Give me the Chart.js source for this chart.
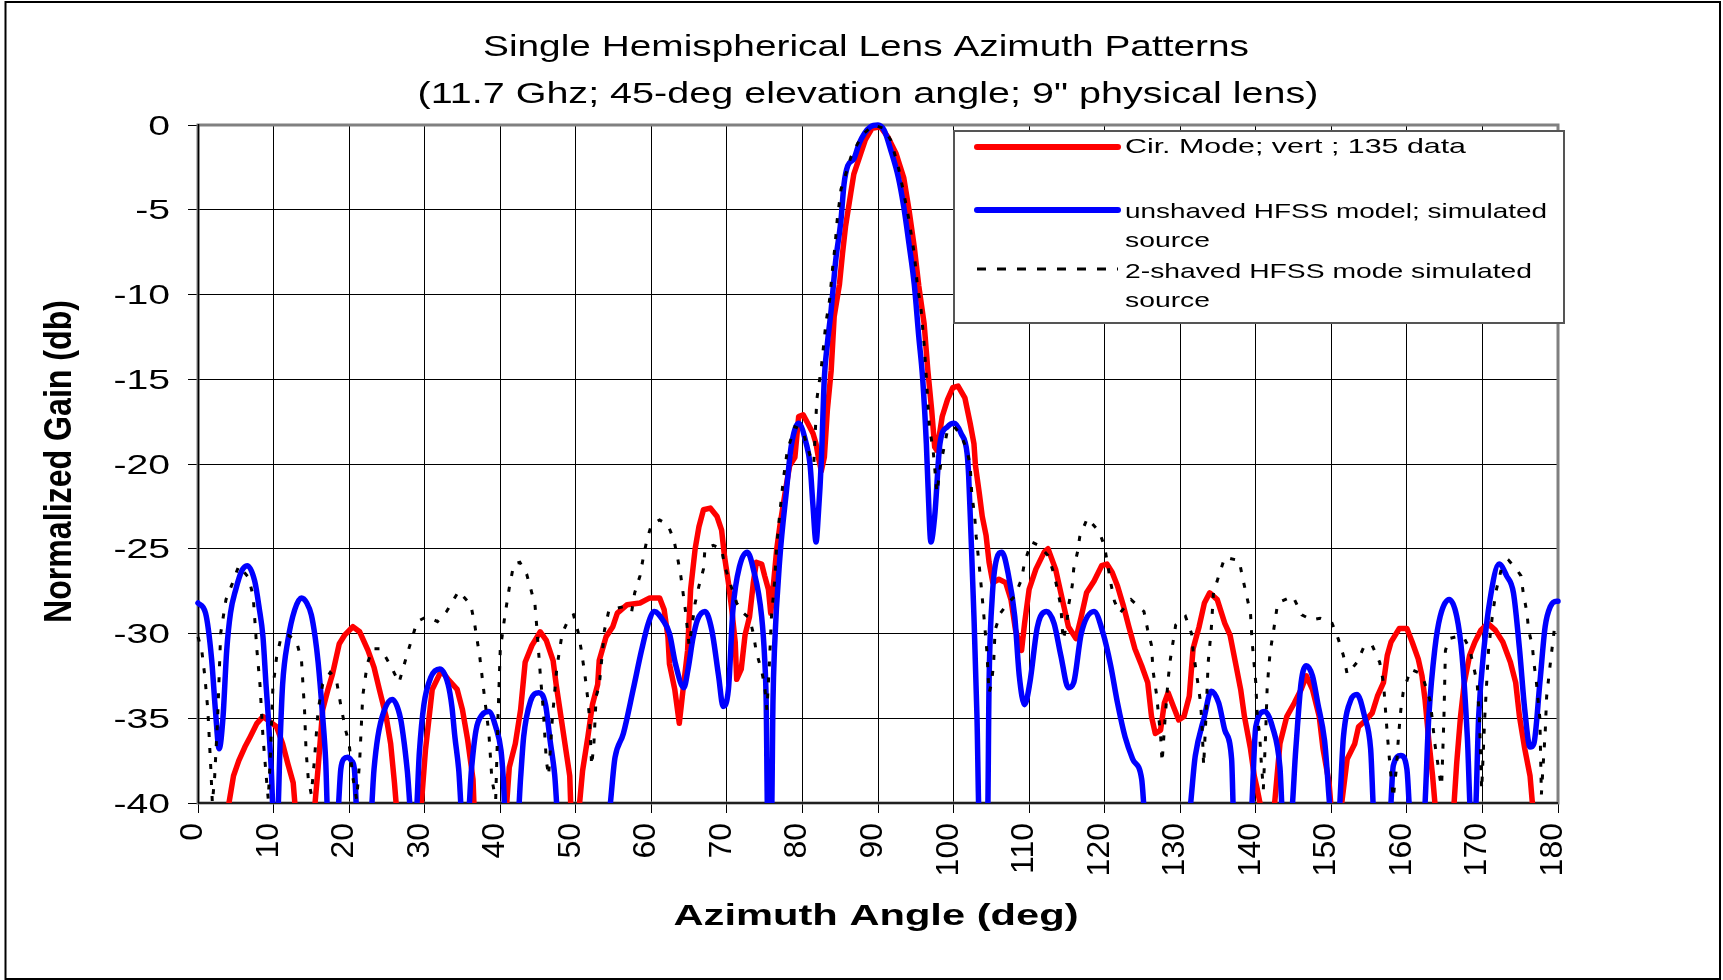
<!DOCTYPE html>
<html>
<head>
<meta charset="utf-8">
<title>Single Hemispherical Lens Azimuth Patterns</title>
<script src="https://cdn.jsdelivr.net/npm/chart.js@4/dist/chart.umd.min.js"></script>
<style>
  html, body { margin: 0; padding: 0; background: #fff; }
  canvas { display: block; }
</style>
</head>
<body>
<canvas id="chart" width="1723" height="980"></canvas>
<script>
// --- DATA ---
const titleLines = ['Single Hemispherical Lens Azimuth Patterns', '(11.7 Ghz; 45-deg elevation angle; 9" physical lens)'];
const xAxisTitle = 'Azimuth Angle (deg)';
const yAxisTitle = 'Normalized Gain (db)';
const xTicks = [0, 10, 20, 30, 40, 50, 60, 70, 80, 90, 100, 110, 120, 130, 140, 150, 160, 170, 180];
const yTicks = [0, -5, -10, -15, -20, -25, -30, -35, -40];
const seriesNames = ['Cir. Mode; vert ; 135 data', 'unshaved HFSS model; simulated\nsource', '2-shaved HFSS mode simulated\nsource'];

// measured pattern  [azimuth deg, gain db]  (values under -40 fall off the plot)
const redPoints = [
    [0, -46], [3.9, -41], [4.1, -40], [4.7, -38.4], [5.4, -37.5], [6.2, -36.7], [6.9, -36.1], [7.8, -35.3],
    [8.6, -34.9], [9.5, -35.2], [10.4, -35.5], [11.2, -36.5], [11.9, -37.7], [12.6, -38.8], [13.0, -41],
    [15.3, -41], [15.9, -37.9], [16.5, -34.5], [17.2, -33.3], [17.8, -32.4], [18.7, -30.6], [19.4, -30.1],
    [20.5, -29.6], [21.4, -29.9], [22.5, -31.0], [23.3, -32.0], [24.0, -33.3], [24.9, -34.9], [25.5, -36.5],
    [26.0, -38.8], [26.4, -41], [29.4, -41], [30.1, -36.9], [31.0, -33.3], [32.2, -32.2], [33.1, -32.7],
    [34.3, -33.3], [35.0, -34.5], [35.7, -36.3], [36.4, -38.6], [36.6, -41], [40.7, -41], [41.2, -37.9],
    [42.0, -36.5], [42.7, -34.5], [43.3, -31.7], [44.2, -30.7], [45.3, -29.9], [46.1, -30.4], [47.0, -31.6],
    [47.4, -33.0], [47.9, -34.5], [48.5, -36.3], [49.2, -38.4], [49.4, -41], [50.3, -41], [50.9, -38.1],
    [51.6, -36.1], [52.2, -34.2], [52.9, -33.0], [53.1, -31.6], [54.0, -30.2], [54.9, -29.6], [55.5, -28.8],
    [56.8, -28.3], [58.5, -28.2], [59.8, -27.9], [61.1, -27.9], [61.7, -28.6], [62.2, -30.2], [62.4, -31.8],
    [63.1, -33.3], [63.7, -35.3], [64.1, -33.7], [64.8, -31.0], [65.2, -27.4], [65.8, -25.0], [66.3, -23.7],
    [66.9, -22.7], [67.8, -22.6], [68.7, -23.1], [69.3, -23.9], [69.7, -25.5], [70.2, -27.0], [70.6, -28.4],
    [71.1, -30.5], [71.3, -32.7], [71.9, -32.1], [72.4, -30.1], [73.0, -29.0], [73.5, -27.0], [73.9, -25.8],
    [74.6, -25.9], [75.0, -26.6], [75.5, -27.4], [75.8, -28.8], [76.1, -27.4], [76.6, -25.0], [77.0, -23.7],
    [77.7, -21.7], [78.3, -20.1], [79.0, -19.6], [79.5, -17.2], [80.1, -17.1], [80.7, -17.6], [81.4, -18.2],
    [81.8, -18.8], [82.1, -19.6], [82.5, -20.4], [82.9, -19.6], [83.3, -16.8], [83.8, -14.5], [84.2, -11.3],
    [84.9, -9.4], [85.3, -7.6], [85.7, -6.0], [86.4, -4.0], [86.8, -2.9], [87.7, -1.7], [88.3, -0.9],
    [89.2, -0.2], [90.3, -0.1], [91.3, -0.7], [92.4, -1.7], [93.4, -3.1], [94.1, -5.0], [94.8, -7.2],
    [95.4, -9.5], [96.1, -11.7], [96.6, -14.5], [97.1, -16.8], [97.5, -19.0], [97.8, -19.2], [98.5, -17.2],
    [99.2, -16.2], [99.9, -15.5], [100.6, -15.4], [101.5, -16.1], [102.2, -17.6], [102.7, -18.8], [102.9, -20.1],
    [103.4, -21.7], [103.8, -23.1], [104.3, -24.2], [104.7, -25.8], [105.2, -27.0], [106.0, -26.8], [106.9, -27.0],
    [107.6, -28.0], [108.2, -29.8], [109.0, -31.0], [109.4, -29.4], [110.0, -27.4], [110.9, -26.2], [112.0, -25.2],
    [112.5, -25.0], [113.5, -26.2], [114.2, -27.6], [115.2, -29.6], [116.2, -30.3], [116.9, -29.0], [117.6, -27.6],
    [118.6, -26.9], [119.6, -26.0], [120.3, -25.9], [121.0, -26.4], [121.7, -27.2], [122.5, -28.4], [123.2, -29.6],
    [124.0, -30.9], [124.9, -31.9], [125.7, -32.9], [126.2, -34.9], [126.7, -35.9], [127.4, -35.7], [127.9, -34.1],
    [128.4, -33.5], [129.1, -34.3], [129.8, -35.1], [130.5, -34.9], [131.2, -33.7], [131.7, -30.9], [132.5, -29.6],
    [133.2, -28.2], [133.9, -27.6], [134.9, -28.0], [135.9, -29.4], [136.6, -30.1], [137.3, -31.7], [138.0, -33.3],
    [138.5, -34.9], [139.3, -36.8], [139.8, -38.4], [140.2, -39.2], [141.0, -41], [142.3, -41], [142.8, -38.5],
    [143.2, -36.5], [144.1, -34.9], [145.1, -34.1], [146.0, -33.3], [146.7, -32.5], [147.5, -33.3], [148.4, -34.9],
    [148.9, -36.8], [149.7, -38.8], [150.1, -41], [151.1, -41], [152.1, -37.4], [153.1, -36.5], [153.6, -35.5],
    [154.6, -35.1], [155.4, -34.7], [156.1, -33.7], [156.9, -32.9], [157.4, -31.3], [157.9, -30.5], [159.0, -29.7],
    [160.0, -29.7], [160.7, -30.5], [161.5, -31.5], [162.0, -32.5], [162.4, -33.9], [162.9, -36.3], [163.4, -38.4],
    [163.9, -41], [166.1, -41], [166.6, -37.6], [167.1, -34.9], [167.6, -32.9], [168.3, -31.3], [169.0, -30.5],
    [169.8, -29.8], [170.7, -29.4], [171.7, -29.8], [172.7, -30.5], [173.7, -31.7], [174.4, -32.9], [174.9, -34.9],
    [175.6, -36.8], [176.3, -38.4], [176.8, -41], [180, -46]
];

// unshaved HFSS model
const bluePoints = [
    [0, -28.2], [1.0, -28.8], [1.8, -31.5], [2.3, -34.5], [2.8, -36.8], [3.3, -35.0], [3.8, -31.0], [4.3, -28.8],
    [5.0, -27.4], [5.8, -26.3], [6.5, -26.0], [7.5, -26.9], [8.1, -28.5], [8.6, -30.2], [9.0, -33.0], [9.3, -34.9],
    [9.7, -38.0], [10.0, -41], [10.5, -41], [10.9, -36.0], [11.2, -33.0], [11.9, -30.4], [12.8, -28.6], [13.7, -27.9],
    [14.4, -28.2], [15.0, -28.9], [15.5, -30.2], [15.9, -31.7], [16.5, -34.9], [16.9, -37.5], [17.2, -41],
    [18.4, -41], [18.9, -38.0], [19.3, -37.4], [19.8, -37.3], [20.3, -37.5], [20.7, -38.0], [21.1, -41],
    [22.8, -41], [23.3, -38.0], [23.8, -36.1], [24.6, -34.6], [25.7, -33.9], [26.8, -35.0], [27.3, -36.5],
    [27.7, -38.1], [28.3, -41], [28.8, -41], [29.3, -37.0], [29.9, -34.2], [30.8, -32.6], [32.0, -32.1],
    [33.1, -33.0], [33.6, -34.3], [34.0, -36.1], [34.5, -38.0], [35.0, -41], [35.7, -41], [36.2, -38.0],
    [36.8, -35.7], [37.6, -34.8], [38.5, -34.6], [39.4, -35.5], [40.1, -36.9], [40.4, -38.5], [40.7, -41],
    [42.3, -41], [42.7, -38.5], [43.1, -36.1], [44.0, -34.0], [45.1, -33.5], [46.0, -34.2], [46.6, -36.3],
    [47.2, -38.3], [47.7, -41], [54.2, -41], [55.2, -37.3], [56.3, -35.9], [57.6, -33.3], [58.7, -31.0],
    [59.6, -29.4], [60.4, -28.7], [61.5, -29.2], [62.4, -30.0], [63.2, -31.8], [64.3, -33.2], [64.9, -32.0],
    [65.5, -30.3], [66.1, -29.2], [67.1, -28.7], [68.0, -29.8], [68.9, -32.5], [69.5, -34.3], [70.2, -33.3],
    [70.8, -28.6], [71.7, -26.0], [72.7, -25.2], [73.5, -26.2], [74.6, -29.0], [75.0, -31.5], [75.2, -34.0],
    [75.4, -41], [75.9, -41], [76.1, -34.0], [76.3, -30.9], [77.0, -25.6], [77.9, -21.5], [78.5, -19.0],
    [79.5, -17.6], [80.5, -18.8], [81.0, -20.0], [81.4, -22.5], [81.8, -24.6], [82.1, -23.0], [82.5, -19.8],
    [82.9, -14.9], [83.3, -12.9], [83.8, -10.9], [84.4, -8.0], [85.1, -5.6], [85.5, -3.5], [86.0, -2.4],
    [86.8, -2.0], [87.5, -1.1], [88.2, -0.5], [89.0, -0.1], [90.0, 0], [90.8, -0.3], [91.7, -1.5], [92.7, -3.1],
    [93.4, -4.8], [94.1, -7.0], [94.8, -9.4], [95.4, -12.5], [95.9, -14.9], [96.4, -18.8], [96.6, -21.1],
    [97.0, -24.6], [97.5, -23.1], [98.2, -18.8], [99.2, -17.8], [100.1, -17.6], [101.0, -18.2], [101.8, -19.4],
    [102.0, -20.7], [102.3, -24.1], [102.7, -29.0], [103.1, -34.9], [103.4, -41], [104.5, -41], [104.7, -32.9],
    [105.1, -28.0], [105.7, -25.6], [106.4, -25.2], [107.2, -26.4], [108.1, -29.0], [108.7, -32.5], [109.4, -34.2],
    [110.1, -32.9], [111.1, -29.6], [112.3, -28.7], [113.3, -29.4], [114.2, -31.3], [115.2, -33.2], [115.9, -32.9],
    [116.9, -30.0], [118.6, -28.7], [119.8, -30.0], [120.8, -31.9], [121.7, -34.1], [122.7, -36.1], [123.7, -37.4],
    [124.9, -38.6], [125.4, -41], [131.0, -41], [132.0, -37.2], [133.2, -34.9], [134.1, -33.4], [135.1, -34.1],
    [135.9, -35.7], [136.8, -37.4], [137.1, -41], [139.3, -41], [140.0, -35.5], [141.2, -34.6], [142.2, -35.5],
    [143.2, -37.9], [143.6, -41], [144.6, -41], [145.3, -36.8], [146.0, -32.9], [146.7, -31.9], [147.5, -32.5],
    [148.2, -34.1], [149.1, -36.3], [150.1, -41], [150.9, -41], [151.6, -36.1], [152.6, -33.9], [153.4, -33.6],
    [154.4, -34.9], [155.2, -36.8], [155.7, -41], [157.7, -41], [158.2, -37.8], [159.2, -37.2], [160.0, -38.0],
    [160.5, -41], [162.2, -41], [162.9, -34.9], [163.7, -30.9], [164.4, -29.0], [165.6, -28.0], [166.6, -29.0],
    [167.3, -31.3], [168.0, -36.1], [168.5, -41], [169.0, -41], [169.5, -34.9], [170.2, -30.9], [171.0, -28.0],
    [172.2, -25.9], [173.2, -26.6], [174.1, -27.6], [174.9, -30.9], [175.6, -34.5], [176.3, -36.7], [176.8, -36.5],
    [177.6, -32.9], [178.3, -29.6], [179.0, -28.4], [179.8, -28.1], [180, -28.1]
];

// 2-shaved HFSS model
const shavedPoints = [
    [0, -30.2], [0.5, -31.0], [0.9, -32.5], [1.3, -34.5], [1.7, -38.0], [1.9, -40.0], [2.2, -38.5], [2.6, -35.0],
    [3.0, -30.0], [3.7, -28.0], [4.5, -27.1], [5.4, -26.0], [6.7, -26.7], [7.3, -27.8], [7.8, -31.0], [8.2, -33.0],
    [8.6, -36.1], [9.1, -38.8], [9.3, -39.8], [9.6, -37.0], [9.9, -33.3], [10.4, -31.4], [11.0, -30.2], [11.9, -30.1],
    [13.0, -30.4], [13.7, -31.6], [14.1, -34.5], [14.3, -36.9], [14.6, -38.6], [15.0, -39.5], [15.4, -37.5],
    [15.9, -34.5], [16.5, -33.0], [17.5, -32.3], [18.3, -32.7], [19.0, -34.5], [19.6, -35.8], [20.0, -36.5],
    [20.5, -38.5], [21.0, -39.8], [21.4, -37.5], [21.8, -33.7], [22.4, -31.8], [23.1, -30.9], [24.2, -30.9],
    [25.5, -31.9], [26.6, -32.9], [27.7, -31.2], [29.0, -29.3], [30.3, -29.0], [31.7, -29.3], [32.9, -28.7],
    [34.5, -27.5], [36.1, -28.3], [36.6, -29.4], [37.3, -31.4], [37.8, -33.3], [38.5, -35.9], [38.9, -38.6],
    [39.4, -39.8], [39.7, -35.0], [40.0, -31.0], [40.6, -29.0], [41.2, -27.3], [41.8, -25.9], [42.6, -25.8],
    [43.5, -26.5], [44.0, -27.3], [44.6, -28.3], [44.8, -29.4], [45.3, -32.4], [45.7, -34.5], [46.1, -37.5],
    [46.4, -38.4], [46.9, -35.0], [47.5, -32.0], [48.2, -30.0], [49.2, -29.0], [49.7, -28.9], [50.3, -29.9],
    [50.7, -30.9], [51.2, -32.4], [51.6, -33.9], [51.8, -34.9], [52.1, -37.8], [52.4, -36.5], [52.7, -33.7],
    [53.1, -33.1], [53.8, -29.8], [54.4, -28.6], [55.5, -28.5], [56.5, -28.4], [57.4, -28.7], [57.8, -27.6],
    [58.5, -26.6], [58.9, -25.6], [59.4, -24.5], [60.0, -23.6], [61.1, -23.3], [62.2, -23.6], [63.0, -24.5],
    [63.5, -25.6], [63.9, -26.6], [64.5, -28.6], [65.0, -30.7], [65.4, -29.5], [65.8, -28.2], [66.3, -27.2],
    [66.9, -26.2], [67.1, -25.0], [68.2, -24.8], [69.3, -25.0], [69.7, -26.0], [70.4, -27.0], [71.3, -28.2],
    [72.2, -28.8], [73.0, -29.1], [73.5, -30.0], [73.9, -31.1], [74.6, -32.2], [75.0, -33.1], [75.3, -34.5],
    [75.6, -32.0], [75.9, -29.0], [76.3, -27.0], [76.6, -24.8], [77.0, -22.9], [77.5, -20.8], [78.0, -19.2],
    [79.0, -17.8], [80.0, -18.0], [81.0, -19.5], [81.5, -20.0], [81.9, -16.2], [82.5, -14.3], [83.1, -11.7],
    [83.6, -10.3], [84.0, -8.4], [84.3, -7.2], [84.6, -5.6], [85.1, -3.8], [85.6, -3.1], [86.4, -1.9], [87.3, -1.1],
    [88.1, -0.5], [89.4, 0], [90.8, -0.2], [91.7, -0.9], [92.7, -2.5], [93.4, -4.0], [94.1, -5.6], [94.8, -7.6],
    [95.2, -9.4], [95.7, -10.9], [96.1, -12.9], [96.4, -14.9], [96.6, -16.4], [96.8, -17.8], [97.3, -19.2],
    [97.8, -21.7], [98.3, -20.0], [99.2, -18.0], [100.1, -17.8], [101.0, -18.3], [101.8, -19.2], [102.2, -20.1],
    [102.4, -21.7], [102.8, -23.1], [103.0, -24.3], [103.4, -26.0], [103.7, -27.4], [104.1, -29.4], [104.4, -31.0],
    [104.7, -33.5], [105.0, -33.0], [105.3, -31.8], [105.5, -29.8], [106.2, -28.8], [107.2, -28.2], [108.1, -27.8],
    [109.0, -26.8], [109.4, -25.8], [110.3, -24.6], [111.3, -24.8], [112.5, -25.4], [113.3, -26.5], [113.8, -27.5],
    [114.2, -28.4], [114.5, -30.4], [115.0, -29.4], [115.2, -28.4], [115.7, -27.2], [115.9, -26.2], [116.4, -25.2],
    [116.7, -24.3], [117.7, -23.2], [119.3, -24.0], [120.0, -24.9], [120.8, -27.0], [121.3, -28.1], [122.0, -28.8],
    [123.5, -28.0], [125.2, -28.7], [125.7, -29.8], [126.2, -30.7], [126.4, -32.2], [126.9, -33.7], [127.1, -34.7],
    [127.4, -36.0], [127.6, -37.6], [128.0, -35.0], [128.4, -32.7], [128.7, -31.5], [129.4, -29.5], [130.7, -29.0],
    [131.5, -30.0], [131.7, -31.0], [132.2, -32.5], [132.7, -34.1], [132.9, -35.6], [133.1, -37.8], [133.4, -35.0],
    [133.7, -31.7], [134.1, -29.8], [134.4, -27.6], [135.1, -26.6], [135.9, -25.5], [137.8, -25.7], [138.3, -26.8],
    [138.8, -27.8], [139.3, -28.8], [139.5, -30.4], [139.8, -31.9], [140.0, -32.9], [140.2, -34.9], [140.5, -35.9],
    [140.7, -37.4], [141.0, -39.2], [141.3, -36.0], [141.5, -33.3], [141.7, -32.1], [141.9, -31.1], [142.4, -29.7],
    [142.9, -28.2], [144.9, -27.8], [146.1, -28.9], [147.4, -29.2], [148.5, -29.1], [150.1, -29.4], [150.9, -30.3],
    [151.6, -31.3], [152.1, -32.4], [153.4, -31.7], [154.4, -30.7], [155.4, -30.7], [156.4, -31.7], [156.9, -32.9],
    [157.4, -35.9], [157.8, -38.0], [158.2, -39.7], [158.6, -38.0], [158.9, -36.0], [159.2, -34.5], [159.5, -33.5],
    [160.5, -32.1], [161.5, -32.3], [162.2, -32.7], [163.1, -34.0], [163.7, -36.5], [164.4, -38.6], [164.6, -39.0],
    [164.9, -35.0], [165.1, -31.0], [165.6, -30.3], [166.5, -30.2], [167.5, -30.2], [168.3, -30.9], [168.8, -31.9],
    [169.3, -32.9], [169.6, -35.0], [169.9, -39.2], [170.3, -35.0], [170.8, -31.0], [171.3, -29.0], [171.8, -27.5],
    [172.5, -26.2], [173.5, -25.7], [174.5, -26.2], [175.1, -26.6], [175.4, -27.6], [175.9, -28.8], [176.1, -29.8],
    [176.6, -30.7], [176.8, -31.7], [177.1, -32.7], [177.6, -35.0], [177.8, -39.5], [178.0, -38.0], [178.3, -35.9],
    [178.5, -33.7], [179.0, -31.7], [179.5, -29.8], [180, -29.5]
];

const FONT = '"Liberation Sans", Arial, Helvetica, sans-serif';

// --- TEXT HELPERS (the source picture has horizontally stretched lettering) ---
const drawScaled = (ctx, txt, x, y, size, bold, sx, align) => {
    ctx.save();
    ctx.translate(x, y);
    ctx.scale(sx, 1);
    ctx.font = `${bold ? 'bold ' : ''}${size}px ${FONT}`;
    ctx.textAlign = align || 'left';
    ctx.textBaseline = 'alphabetic';
    ctx.fillStyle = '#000';
    ctx.fillText(txt, 0, 0);
    ctx.restore();
};

// squeeze/stretch a line so it covers the given width
const drawFit = (ctx, txt, x, y, size, bold, width, align) => {
    ctx.save();
    ctx.font = `${bold ? 'bold ' : ''}${size}px ${FONT}`;
    const sx = width / ctx.measureText(txt).width;
    ctx.restore();
    drawScaled(ctx, txt, x, y, size, bold, sx, align || 'center');
};

const toXY = pts => pts.map(p => ({ x: p[0], y: p[1] }));

// --- PLUGIN: frame, titles, tick labels, legend ---
const excelLook = {
    id: 'excelLook',
    beforeDraw: (chart) => {
        const ctx = chart.ctx;
        ctx.save();
        ctx.fillStyle = '#fff';
        ctx.fillRect(0, 0, chart.width, chart.height);
        ctx.strokeStyle = '#000';
        ctx.lineWidth = 2;
        ctx.strokeRect(5.5, 2, 1714.5, 977);
        ctx.restore();
    },
    beforeDatasetsDraw: (chart) => {
        const ctx = chart.ctx;
        const a = chart.chartArea;
        ctx.save();
        ctx.strokeStyle = '#808080';
        ctx.lineWidth = 3;
        ctx.strokeRect(a.left, a.top, a.right - a.left, a.bottom - a.top);
        ctx.strokeStyle = '#000';
        ctx.lineWidth = 1.5;
        ctx.beginPath();
        ctx.moveTo(a.left + 0.5, a.top - 1);
        ctx.lineTo(a.left + 0.5, a.bottom);
        ctx.moveTo(a.left, a.bottom);
        ctx.lineTo(a.right, a.bottom);
        ctx.stroke();
        ctx.restore();
    },
    afterDraw: (chart) => {
        const ctx = chart.ctx;
        const xs = chart.scales.x;
        const ys = chart.scales.y;

        // titles
        drawFit(ctx, titleLines[0], 866, 56, 30, false, 766);
        drawFit(ctx, titleLines[1], 868, 103, 30, false, 901);

        // y tick labels
        yTicks.forEach(v => {
            const py = ys.getPixelForValue(v);
            drawScaled(ctx, String(v), 170, py + 9.7, 27, false, 1.45, 'right');
        });

        // x tick labels, turned to read bottom-up
        xTicks.forEach(v => {
            const px = xs.getPixelForValue(v);
            ctx.save();
            ctx.translate(px + 4, 823);
            ctx.rotate(-Math.PI / 2);
            ctx.font = `32px ${FONT}`;
            ctx.textAlign = 'right';
            ctx.textBaseline = 'alphabetic';
            ctx.fillStyle = '#000';
            ctx.fillText(String(v), 0, 0);
            ctx.restore();
        });

        // axis titles
        drawFit(ctx, xAxisTitle, 876, 925, 29, true, 405);
        ctx.save();
        ctx.translate(60, 461.5);
        ctx.rotate(-Math.PI / 2);
        ctx.font = `bold 32px ${FONT}`;
        const yw = ctx.measureText(yAxisTitle).width;
        ctx.scale(323 / yw, 1.2);
        ctx.textAlign = 'center';
        ctx.textBaseline = 'middle';
        ctx.fillStyle = '#000';
        ctx.fillText(yAxisTitle, 0, 0);
        ctx.restore();

        // legend
        const box = { left: 954, top: 131, right: 1564, bottom: 323 };
        ctx.save();
        ctx.fillStyle = '#fff';
        ctx.fillRect(box.left, box.top, box.right - box.left, box.bottom - box.top);
        ctx.strokeStyle = '#555';
        ctx.lineWidth = 2;
        ctx.strokeRect(box.left, box.top, box.right - box.left, box.bottom - box.top);
        const rows = [
            { y: 147, color: '#ff0000', width: 6, dash: [], base: 153.3, widths: [341] },
            { y: 210, color: '#0000ff', width: 6, dash: [], base: 218, widths: [422, 85] },
            { y: 269, color: '#000000', width: 3, dash: [9, 11], base: 277.5, widths: [407, 85] }
        ];
        rows.forEach((r, i) => {
            ctx.beginPath();
            ctx.strokeStyle = r.color;
            ctx.lineWidth = r.width;
            ctx.lineCap = r.dash.length ? 'butt' : 'round';
            ctx.setLineDash(r.dash);
            ctx.moveTo(977, r.y);
            ctx.lineTo(1118, r.y);
            ctx.stroke();
            ctx.setLineDash([]);
            seriesNames[i].split('\n').forEach((line, k) => {
                drawFit(ctx, line, 1125, r.base + k * 29, 21, false, r.widths[k], 'left');
            });
        });
        ctx.restore();
    }
};

const ctx = document.getElementById('chart').getContext('2d');
new Chart(ctx, {
    type: 'line',
    data: {
        datasets: [
            {
                label: seriesNames[2],
                data: toXY(shavedPoints),
                borderColor: '#000',
                borderWidth: 3,
                borderDash: [5, 11],
                pointRadius: 0,
                tension: 0,
                order: 1,
                clip: { left: 4, top: 4, right: 4, bottom: 0 }
            },
            {
                label: seriesNames[1],
                data: toXY(bluePoints),
                borderColor: '#0000ff',
                borderWidth: 5.5,
                pointRadius: 0,
                cubicInterpolationMode: 'monotone',
                borderJoinStyle: 'round',
                borderCapStyle: 'round',
                order: 2,
                clip: { left: 4, top: 4, right: 4, bottom: 0 }
            },
            {
                label: seriesNames[0],
                data: toXY(redPoints),
                borderColor: '#ff0000',
                borderWidth: 5.5,
                pointRadius: 0,
                tension: 0,
                borderJoinStyle: 'round',
                borderCapStyle: 'round',
                order: 3,
                clip: { left: 4, top: 4, right: 4, bottom: 0 }
            }
        ]
    },
    options: {
        responsive: false,
        devicePixelRatio: 1,
        animation: false,
        events: [],
        layout: { padding: { left: 0, right: 165, top: 125, bottom: 0 } },
        plugins: {
            legend: { display: false },
            title: { display: false },
            tooltip: { enabled: false }
        },
        scales: {
            x: {
                type: 'linear',
                min: 0,
                max: 180,
                ticks: { stepSize: 10, display: false },
                grid: { color: '#000', lineWidth: 1, tickLength: 10, tickColor: '#000', drawTicks: true },
                border: { display: false },
                afterFit: (scale) => { scale.height = 177; }
            },
            y: {
                type: 'linear',
                min: -40,
                max: 0,
                ticks: { stepSize: 5, display: false },
                grid: { color: '#000', lineWidth: 1, tickLength: 10, tickColor: '#000', drawTicks: true },
                border: { display: false },
                afterFit: (scale) => { scale.width = 198; }
            }
        }
    },
    plugins: [excelLook]
});
</script>
</body>
</html>
